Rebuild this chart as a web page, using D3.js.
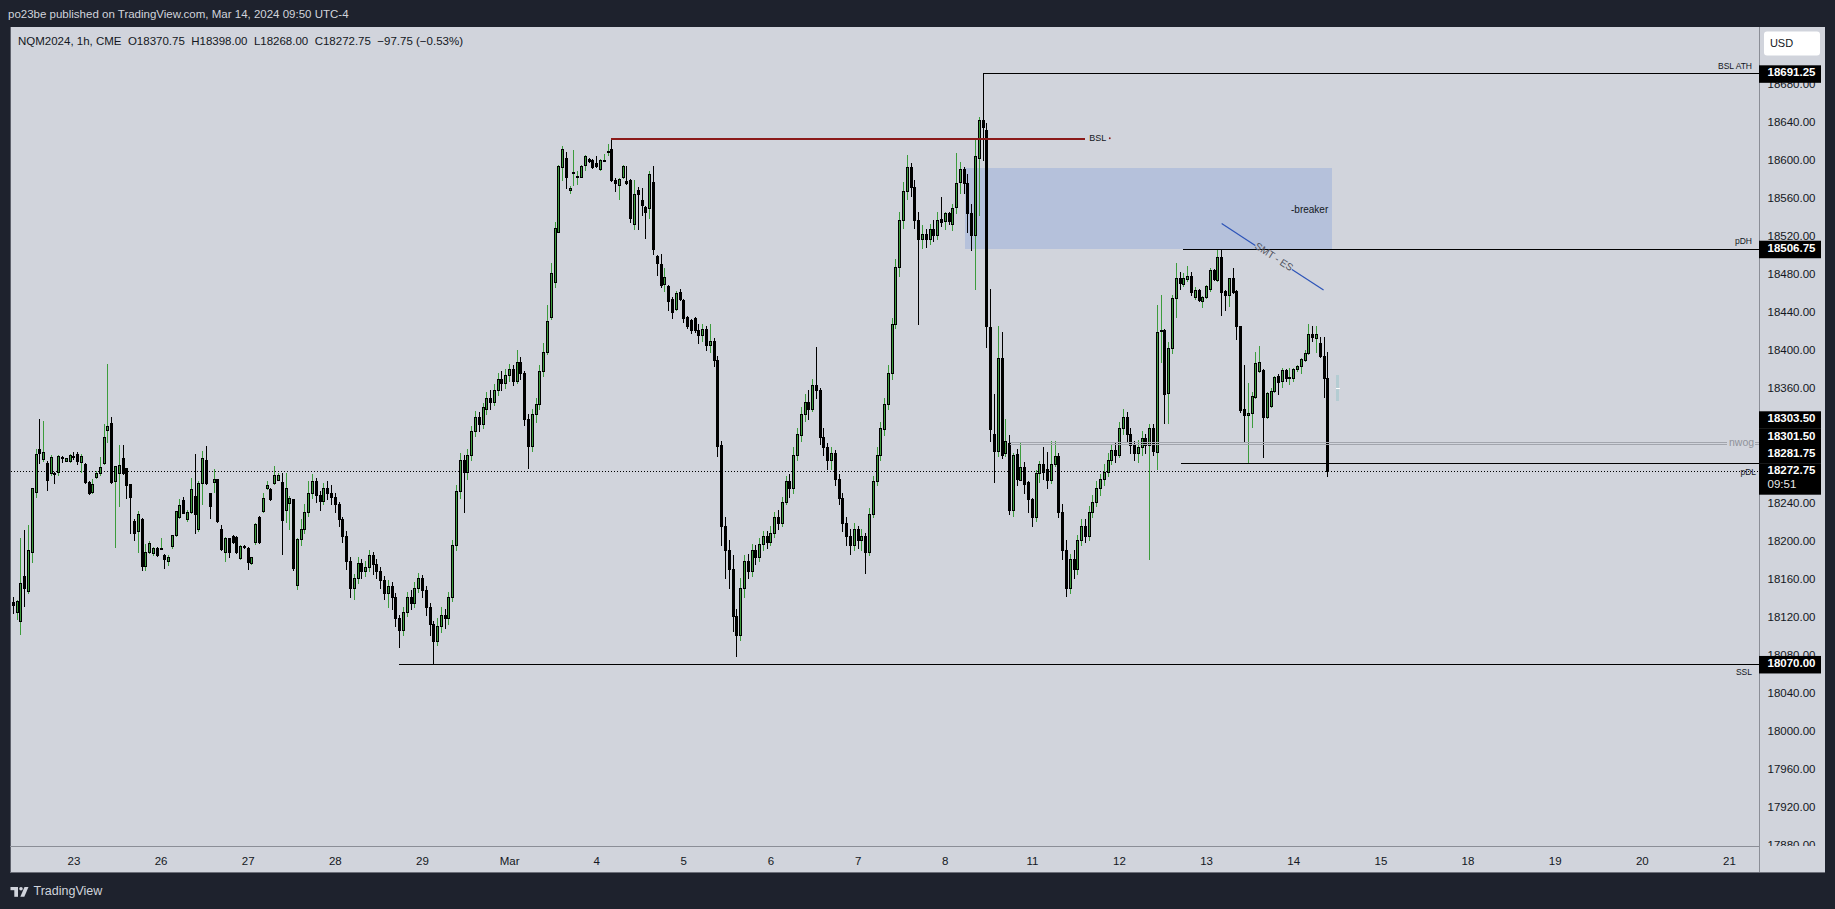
<!DOCTYPE html>
<html><head><meta charset="utf-8">
<script src="https://cdn.jsdelivr.net/npm/d3@7"></script>
<style>
html,body{margin:0;padding:0;background:#1e222d;}
svg{display:block;font-family:"Liberation Sans",Arial,sans-serif;}
</style></head><body>
<svg id="c" width="1835" height="909"></svg>
<script>
// ---------- DATA (NQM2024, 1h bars; bar 0 = Feb 23 00:00, 23 bars per session day) ----------
const firstBar = -16;
const opens = [
18135,18125,18115,18163,18147,18188,18251,18296,18286,18281,18271,18271,18272,18288,18284,18283,
18289,18291,18282,18280,18261,18251,18267,18271,18281,18316,18323,18262,18271,18287,18276,18259,18220,18210,18222,18173,18188,18187,18192,
18192,18185,18178,18194,18206,18225,18242,18222,18230,18247,18212,18260,18285,18250,18261,18265,18212,18188,18202,18205,18204,18181,18194,
18192,18176,18198,18225,18231,18255,18254,18260,18264,18261,18232,18239,18243,18153,18201,18212,18230,18250,18262,18248,18241,18255,18250,
18246,18238,18222,18205,18178,18150,18160,18176,18168,18172,18185,18175,18168,18158,18145,18152,18140,18118,18106,18125,18140,18134,18150,
18160,18148,18130,18112,18094,18110,18122,18118,18140,18195,18252,18285,18272,18290,18315,18330,18322,18338,18350,18346,18358,18370,18366,
18374,18380,18368,18388,18376,18328,18299,18333,18343,18378,18398,18435,18472,18524,18593,18602,18569,18587,18582,18582,18595,18601,18600,
18597,18591,18600,18609,18612,18579,18574,18582,18578,18579,18533,18569,18558,18551,18550,18577,18499,18491,18470,18468,18454,18443,18461,
18453,18435,18432,18434,18421,18416,18422,18406,18410,18390,18300,18215,18190,18170,18120,18100,18150,18178,18168,18190,18182,18196,18205,
18198,18208,18225,18218,18240,18262,18255,18290,18311,18333,18346,18338,18363,18358,18309,18298,18285,18292,18265,18245,18218,18205,18195,
18212,18200,18205,18188,18228,18262,18290,18317,18343,18376,18428,18488,18537,18567,18593,18572,18537,18517,18522,18517,18527,18521,18538,
18536,18544,18533,18551,18577,18591,18576,18544,18521,18602,18642,18632,18424,18312,18294,18392,18292,18302,18232,18291,18263,18277,18261,
18243,18225,18271,18280,18275,18263,18280,18289,18230,18190,18150,18180,18170,18200,18215,18205,18230,18240,18255,18265,18272,18285,18295,
18290,18318,18330,18312,18300,18292,18298,18308,18300,18318,18293,18420,18421,18355,18402,18455,18476,18470,18475,18478,18456,18463,18452,
18456.5,18464,18484,18474,18498,18462.5,18458,18476,18462,18425.5,18338.5,18332,18334,18351,18378,18379,18330,18341,18357,18373,18368,18379,18372,
18371,18380,18383,18390,18397,18417,18413,18408,18394,18370.75];
const highs = [
18140,18137,18202,18211,18216,18255,18296,18328,18326,18283,18290,18272,18290,18289,18287,18291,
18293,18293,18291,18281,18262,18265,18273,18288,18322,18385,18330,18278,18300,18300,18276,18259,18222,18231,18224,18196,18199,18193,18193,
18202,18186,18185,18206,18231,18244,18246,18232,18266,18291,18262,18294,18299,18250,18275,18265,18216,18204,18202,18206,18205,18195,18195,
18193,18183,18218,18226,18250,18262,18255,18278,18271,18271,18271,18247,18244,18203,18222,18238,18262,18270,18266,18252,18260,18262,18258,
18250,18240,18225,18210,18182,18165,18182,18180,18178,18190,18188,18180,18172,18162,18158,18156,18145,18122,18130,18146,18148,18156,18166,
18164,18152,18134,18115,18118,18130,18128,18146,18200,18258,18292,18290,18296,18320,18336,18335,18345,18356,18358,18364,18376,18378,18380,
18386,18384,18400,18393,18378,18333,18338,18350,18384,18408,18448,18492,18535,18595,18615,18609,18573,18611,18589,18595,18605,18602,18601,
18604,18601,18606,18617,18623.5,18581,18581,18595,18594,18580,18579,18572,18571,18552,18589,18594,18500,18501,18486,18469,18456,18462,18464,
18454,18436,18433,18435,18428,18428,18426,18428,18413,18394,18305,18225,18200,18185,18128,18160,18185,18186,18196,18195,18202,18210,18210,
18215,18230,18232,18246,18268,18270,18298,18318,18340,18354,18358,18370,18403,18360,18318,18302,18298,18295,18270,18250,18225,18212,18218,
18215,18212,18208,18234,18268,18298,18325,18350,18384,18434,18496,18545,18577,18605,18597,18579,18545,18532,18527,18533,18537,18545,18561,
18545,18545,18554,18607,18598,18593,18585,18554,18623,18645,18691.25,18639,18464,18354,18426,18419,18328,18311,18292,18296,18303,18282,18262,
18245,18274,18283,18298,18293,18305,18305,18292,18238,18200,18186,18190,18206,18222,18222,18236,18248,18262,18270,18280,18292,18300,18302,
18325,18338,18335,18318,18305,18306,18315,18312,18322,18322,18448,18458,18422,18409,18458,18492,18482,18481,18489,18482,18466,18464,18457,
18469,18486,18485,18506.75,18506,18463,18476,18486,18463,18426,18384,18365,18356,18398,18404,18380,18356,18360,18372.5,18375.5,18381,18380,18381,
18381,18384,18392,18400,18428,18425,18426,18414,18414,18398];
const lows = [
18124,18117,18101,18131,18145,18177,18246,18281,18284,18253,18269,18260,18269,18282,18283,18282,
18286,18280,18272,18260,18249,18250,18266,18269,18280,18303,18260,18193,18236,18270,18245,18208,18200,18188,18169,18169,18187,18185,18184,
18191,18171,18174,18192,18205,18224,18229,18220,18229,18208,18210,18238,18259,18224,18251,18219,18190,18178,18182,18197,18187,18180,18192,
18170,18175,18196,18197,18230,18254,18242,18259,18263,18186,18219,18212,18169,18149,18195,18208,18226,18245,18240,18232,18238,18244,18238,
18230,18215,18198,18170,18140,18138,18155,18160,18162,18168,18165,18160,18150,18138,18130,18128,18110,18088,18100,18120,18128,18130,18146,
18140,18122,18100,18070,18090,18104,18108,18112,18136,18190,18245,18230,18265,18285,18310,18315,18318,18333,18338,18342,18353,18358,18360,
18368,18363,18366,18370,18321,18276,18294,18324,18338,18373,18396,18433,18466,18524,18579,18571,18565,18574,18575,18582,18590,18598,18592,
18593,18590,18599,18605,18578,18567,18559,18581,18575,18535,18528,18528,18542,18518,18539,18501,18479,18466,18462,18442,18434,18442,18453,
18430,18423,18418,18419,18408,18410,18400,18398,18383,18289,18195,18160,18150,18105,18078,18095,18140,18160,18162,18175,18178,18190,18192,
18195,18204,18212,18215,18238,18246,18250,18285,18304,18326,18328,18336,18350,18301,18290,18275,18275,18258,18238,18210,18195,18186,18190,
18192,18190,18166,18185,18225,18258,18285,18311,18338,18370,18423,18478,18529,18559,18562,18529,18428,18507,18509,18512,18515,18517,18531,
18528,18533,18526,18544,18565,18565,18524,18505,18464,18542,18600,18403,18304,18261,18289,18287,18289,18228,18226,18258,18263,18250,18230,
18215,18220,18261,18265,18255,18260,18278,18225,18180,18142,18145,18160,18165,18195,18198,18200,18225,18236,18248,18258,18268,18280,18282,
18288,18312,18305,18292,18285,18282,18290,18292,18180,18290,18275,18388,18323,18323,18397,18435,18464,18468,18473,18458,18454,18452,18445,
18455,18462,18474,18473,18437,18442,18446,18460,18412,18335,18303,18281.75,18319,18350,18377,18288,18329,18340,18356,18354,18361,18368,18364,
18368,18378,18376,18389,18396,18410,18398,18393,18351,18268];
const closes = [
18132,18136,18155,18150,18190,18255,18291,18292,18293,18263,18288,18270,18289,18287,18286.5,18290,
18288,18284,18289,18261,18250,18259,18271,18277,18309,18320,18261,18278,18279,18271,18258,18246,18208,18228,18173,18188,18197,18192,18185,
18192,18180,18183,18206,18231,18237,18229,18230,18254,18228,18260,18287,18260,18236,18265,18220,18191,18202,18188,18198,18188,18194,18193,
18177,18182,18217,18198,18245,18258,18243,18269,18269,18221,18255,18245,18171,18201,18212,18230,18250,18262,18248,18241,18255,18250,18246,
18238,18222,18205,18178,18150,18160,18176,18168,18172,18185,18175,18168,18158,18145,18152,18140,18118,18106,18125,18140,18134,18150,18160,
18148,18130,18112,18094,18110,18122,18118,18140,18195,18252,18285,18272,18290,18315,18330,18322,18340,18350,18346,18358,18370,18366,18374,
18380,18368,18388,18376,18328,18299,18333,18343,18378,18398,18431,18481,18529,18594,18612,18582,18571,18587,18583,18594,18604,18599,18593,
18594,18600,18600.25,18609.5,18579,18576,18580,18594,18576,18539,18564,18564,18553,18545,18585,18506,18492,18469,18477,18452,18440,18460,18453.5,
18434,18425,18421,18421,18416,18422,18406,18410,18390,18299,18215,18190,18170,18120,18100,18150,18178,18168,18190,18182,18196,18205,18198,
18208,18225,18218,18240,18262,18255,18290,18312,18333,18346,18338,18363,18358,18309,18298,18285,18292,18265,18245,18218,18205,18195,18212,
18200,18205,18188,18228,18262,18290,18318,18343,18376,18428,18488,18537,18567,18593,18572,18537,18517,18522,18517,18527,18521,18537,18535,
18544,18536,18550,18576,18591,18576,18544,18521,18604,18642,18635,18426,18317,18294,18392,18290,18304,18232,18290,18265,18277,18259,18243,
18225,18271,18280,18272,18263,18280,18289,18230,18190,18150,18180,18170,18200,18215,18205,18230,18240,18255,18265,18272,18285,18295,18290,
18318,18330,18312,18300,18292,18298,18308,18300,18318,18294,18419,18421,18354,18402,18455,18476,18471,18476,18478,18461,18463,18452.5,18456,
18468,18484,18475,18498,18461,18458,18476,18461,18425,18337,18331.5,18334,18351.5,18387,18388,18330,18355,18357,18372,18367,18379,18371,18372.25,
18380,18383,18390.5,18397,18417,18413.5,18417,18394,18370.75,18272.75];

const dayLabels = ["23","26","27","28","29","Mar","4","5","6","7","8","11","12","13","14","15","18","19","20","21"];
const barsPerDay = 23;
const priceTicks = [17880,17920,17960,18000,18040,18080,18120,18160,18200,18240,18280,18320,18360,18400,18440,18480,18520,18560,18600,18640,18680];

// drawn levels: name, price, start bar, end bar (null = right edge)
const levelNames  = ["BSL ATH","BSL","pDH","nwog","nwog","pDL","SSL"];
const levelPrices = [18691.25, 18623.5, 18506.75, 18303.5, 18301.5, 18281.75, 18070];
const levelStart  = [240, 142, 292.8, 247.3, 247.3, 292.5, 86];
const levelEnd    = [null, 267.1, null, 436.5, 436.5, null, null];
// price-axis badges
const badgePrices = [18691.25, 18506.75, 18303.5, 18301.5, 18281.75, 18272.75, 18070];
// breaker zone [startBar, endBar, lowPrice, highPrice]
const breakerZone = [235.4, 332.3, 18506.75, 18591.5];
// SMT line [bar1, price1, bar2, price2]
const smtLine = [303.1, 18533.3, 330, 18463.3];
// faint ghost marker next to last bar [bar, topPrice, bottomPrice, midPrice]
const ghostMark = [333.5, 18373.5, 18346.5, 18360];

const legendText = "NQM2024, 1h, CME  O18370.75  H18398.00  L18268.00  C18272.75  \u221297.75 (\u22120.53%)";
const headerText = "po23be published on TradingView.com, Mar 14, 2024 09:50 UTC-4";
const countdown = "09:51";

// ---------- LAYOUT ----------
const W = 1835, H = 909;
const panel = {l: 10, t: 27, r: 1825, b: 873};
const plotR = 1759, plotB = 846;
const BG = "#d1d4dc", DARK = "#1e222d", TXT = "#131722", GREEN = "#3c9c3c", AXIS = "#8b8e97";

const svg = d3.select("#c");
svg.append("rect").attr("width", W).attr("height", H).attr("fill", DARK);
svg.append("rect").attr("x", panel.l).attr("y", panel.t).attr("width", panel.r - panel.l).attr("height", panel.b - panel.t).attr("fill", BG);
svg.append("rect").attr("x", panel.l).attr("y", panel.t).attr("width", 1).attr("height", panel.b - panel.t).attr("fill", "#5d606b");

const x = d3.scaleLinear().domain([0, (dayLabels.length - 1) * barsPerDay]).range([73.4, 1728.9]);
const y = d3.scaleLinear().domain([17880, 18700]).range([844.6, 65.0]);

const defs = svg.append("defs");
defs.append("clipPath").attr("id", "plotClip").append("rect")
  .attr("x", panel.l + 1).attr("y", panel.t + 1).attr("width", plotR - panel.l - 1).attr("height", plotB - panel.t - 1);
defs.append("clipPath").attr("id", "axisClip").append("rect")
  .attr("x", plotR).attr("y", panel.t).attr("width", panel.r - plotR).attr("height", plotB - panel.t);

const plot = svg.append("g").attr("clip-path", "url(#plotClip)").attr("shape-rendering", "crispEdges");

// breaker zone
plot.append("rect")
  .attr("x", x(breakerZone[0])).attr("y", y(breakerZone[3]))
  .attr("width", x(breakerZone[1]) - x(breakerZone[0])).attr("height", y(breakerZone[2]) - y(breakerZone[3]))
  .attr("fill", "#b5c1db");
svg.append("text").attr("x", x(breakerZone[1]) - 4).attr("y", (y(breakerZone[3]) + y(breakerZone[2])) / 2 + 1.5)
  .attr("text-anchor", "end").attr("dominant-baseline", "middle").attr("font-size", 10).attr("fill", TXT).text("-breaker");

// last price dotted line
const lastC = closes[closes.length - 1];
plot.append("line").attr("x1", panel.l + 1).attr("x2", plotR).attr("y1", Math.round(y(lastC)) + 0.5).attr("y2", Math.round(y(lastC)) + 0.5)
  .attr("stroke", "#000").attr("stroke-width", 1).attr("stroke-dasharray", "1,2").attr("shape-rendering", "auto");

// candles
const bars = closes.map((c, k) => ({i: firstBar + k, o: opens[k], h: highs[k], l: lows[k], c}));
const cand = plot.append("g").selectAll("g.c").data(bars).join("g").attr("class", "c");
cand.each(function(b) {
  const g = d3.select(this);
  const cx = Math.round(x(b.i));
  const up = b.c >= b.o;
  const top = Math.round(y(Math.max(b.o, b.c))), bot = Math.round(y(Math.min(b.o, b.c)));
  const yh = Math.min(Math.round(y(b.h)), top), yl = Math.max(Math.round(y(b.l)), bot);
  g.append("rect").attr("x", cx).attr("y", yh).attr("width", 1).attr("height", Math.max(1, yl - yh + 1))
    .attr("fill", up ? GREEN : "#000");
  const hh = Math.max(1, bot - top);
  g.append("rect").attr("x", cx - 1).attr("y", top).attr("width", 3).attr("height", hh + 1).attr("fill", "#000");
  if (up && hh > 1) g.append("rect").attr("x", cx).attr("y", top + 1).attr("width", 1).attr("height", hh - 1).attr("fill", GREEN);
});

// levels
levelNames.forEach((name, k) => {
  const yy = Math.round(y(levelPrices[k])) + 0.5;
  const x1 = x(levelStart[k]);
  const x2 = levelEnd[k] === null ? plotR : x(levelEnd[k]);
  let stroke = "#000", sw = 1;
  if (name === "BSL") { stroke = "#8b1a1a"; sw = 2; }
  if (name === "nwog") { stroke = "#a2a5ad"; }
  plot.append("line").attr("x1", x1).attr("x2", x2).attr("y1", yy).attr("y2", yy)
    .attr("stroke", stroke).attr("stroke-width", sw);
});
function lab(txt, xx, yy, anchor, size, color) {
  return svg.append("text").attr("x", xx).attr("y", yy).attr("text-anchor", anchor).attr("dominant-baseline", "middle")
    .attr("font-size", size).attr("fill", color).text(txt);
}
lab("BSL ATH", 1752, y(levelPrices[0]) - 6.5, "end", 8.5, TXT);
const bslT = lab("BSL", x(levelEnd[1]) + 4, y(levelPrices[1]) + 0.5, "start", 9, TXT);
svg.append("circle").attr("cx", x(levelEnd[1]) + 4 + bslT.node().getComputedTextLength() + 3.5)
  .attr("cy", y(levelPrices[1]) + 0.5).attr("r", 0.9).attr("fill", "#8b1a1a");
lab("pDH", 1752, y(levelPrices[2]) - 7, "end", 8.5, TXT);
lab("nwog", x(levelEnd[3]) + 2, (y(levelPrices[3]) + y(levelPrices[4])) / 2, "start", 10.5, "#8f929a");
[3, 4].forEach(k => plot.append("line").attr("x1", 1755).attr("x2", plotR)
  .attr("y1", Math.round(y(levelPrices[k])) + 0.5).attr("y2", Math.round(y(levelPrices[k])) + 0.5).attr("stroke", "#a2a5ad"));
lab("pDL", 1756, y(levelPrices[5]) + 10.5, "end", 8.5, TXT);
lab("SSL", 1752, y(levelPrices[6]) + 8.5, "end", 8.5, TXT);

// SMT line with gap for text
const sx1 = x(smtLine[0]), sy1 = y(smtLine[1]), sx2 = x(smtLine[2]), sy2 = y(smtLine[3]);
const seg = (t0, t1) => plot.append("line")
  .attr("x1", sx1 + (sx2 - sx1) * t0).attr("y1", sy1 + (sy2 - sy1) * t0)
  .attr("x2", sx1 + (sx2 - sx1) * t1).attr("y2", sy1 + (sy2 - sy1) * t1)
  .attr("stroke", "#2d54b8").attr("stroke-width", 1.2).attr("shape-rendering", "auto");
seg(0, 0.33); seg(0.69, 1);
const ang = Math.atan2(sy2 - sy1, sx2 - sx1) * 180 / Math.PI;
const tmx = sx1 + (sx2 - sx1) * 0.51, tmy = sy1 + (sy2 - sy1) * 0.51;
svg.append("text").attr("transform", `translate(${tmx},${tmy}) rotate(${ang})`)
  .attr("text-anchor", "middle").attr("dominant-baseline", "middle").attr("font-size", 10).attr("fill", "#50535e").text("SMT - ES");

// ghost marker
plot.append("rect").attr("x", Math.round(x(ghostMark[0])) - 1).attr("y", y(ghostMark[1]))
  .attr("width", 3).attr("height", y(ghostMark[2]) - y(ghostMark[1])).attr("fill", "#b4ccd2");
plot.append("rect").attr("x", Math.round(x(ghostMark[0])) - 1).attr("y", Math.round(y(ghostMark[3])))
  .attr("width", 4).attr("height", 1).attr("fill", "#ffffff");

// ---------- AXES ----------
// price badges positions (stacked upward from the last price)
const lastIdx = badgePrices.indexOf(lastC);
const badgeY = badgePrices.map(p => y(p));
for (let k = lastIdx - 1; k >= 0; k--) {
  if (badgeY[k] > badgeY[k + 1] - 17.3) badgeY[k] = badgeY[k + 1] - 17.3;
}
const badgeBoxes = badgePrices.map((p, k) => [badgeY[k] - 8, badgeY[k] + 8 + (p === lastC ? 14 : 0)]);
const hiddenTick = t => badgeBoxes.some(b => y(t) >= b[0] - 1 && y(t) <= b[1] + 2.5);

svg.append("line").attr("x1", plotR + 0.5).attr("x2", plotR + 0.5).attr("y1", panel.t).attr("y2", panel.b).attr("stroke", AXIS);
const pa = svg.append("g").attr("clip-path", "url(#axisClip)").append("g").attr("transform", `translate(${plotR},0)`)
  .call(d3.axisRight(y).tickValues(priceTicks.filter(t => !hiddenTick(t)))
    .tickFormat(d3.format(".2f")).tickSize(0).tickPadding(8.5));
pa.select(".domain").remove();
pa.selectAll("text").attr("font-size", 11.5).attr("fill", TXT).attr("font-family", '"Liberation Sans",Arial,sans-serif');

// time axis
svg.append("line").attr("x1", panel.l).attr("x2", plotR).attr("y1", plotB + 0.5).attr("y2", plotB + 0.5).attr("stroke", AXIS);
const ta = svg.append("g").attr("transform", `translate(0,${plotB})`)
  .call(d3.axisBottom(x).tickValues(dayLabels.map((_, k) => k * barsPerDay)).tickFormat((d, k) => dayLabels[k]).tickSize(0).tickPadding(10.5));
ta.select(".domain").remove();
ta.selectAll("text").attr("font-size", 11.5).attr("fill", TXT).attr("font-family", '"Liberation Sans",Arial,sans-serif');

// badges
badgePrices.forEach((p, k) => {
  svg.append("rect").attr("x", plotR).attr("y", badgeBoxes[k][0]).attr("width", 62)
    .attr("height", badgeBoxes[k][1] - badgeBoxes[k][0] + 1.5).attr("fill", "#000");
});
badgePrices.forEach((p, k) => {
  svg.append("text").attr("x", 1767.5).attr("y", badgeY[k]).attr("dominant-baseline", "middle")
    .attr("font-size", 11.5).attr("font-weight", "bold").attr("fill", "#fff").text(d3.format(".2f")(p));
  if (p === lastC) {
    svg.append("text").attr("x", 1767.5).attr("y", badgeY[k] + 14).attr("dominant-baseline", "middle")
      .attr("font-size", 11.5).attr("fill", "#e8e8e8").text(countdown);
  }
});

// USD button
svg.append("rect").attr("x", 1764).attr("y", 31.5).attr("width", 56).attr("height", 24).attr("rx", 3).attr("fill", "#fff");
svg.append("text").attr("x", 1781.5).attr("y", 44).attr("text-anchor", "middle").attr("dominant-baseline", "middle")
  .attr("font-size", 11).attr("fill", TXT).text("USD");

svg.append("line").attr("x1", panel.l).attr("x2", panel.r).attr("y1", panel.b - 0.5).attr("y2", panel.b - 0.5).attr("stroke", "#6b6e78");

// legend + header
svg.append("text").attr("x", 18).attr("y", 41.5).attr("dominant-baseline", "middle").attr("font-size", 11.5)
  .attr("fill", TXT).style("white-space", "pre").text(legendText);
svg.append("text").attr("x", 8).attr("y", 14.5).attr("dominant-baseline", "middle").attr("font-size", 11.5)
  .attr("fill", "#d1d4dc").text(headerText);

// TradingView logo
const lg = svg.append("g").attr("fill", "#d1d4dc");
lg.append("rect").attr("x", 10.5).attr("y", 887).attr("width", 7.5).attr("height", 3.2);
lg.append("rect").attr("x", 14.3).attr("y", 887).attr("width", 3.7).attr("height", 9.8);
lg.append("circle").attr("cx", 21).attr("cy", 888.7).attr("r", 1.8);
lg.append("polygon").attr("points", "24.5,887 28.5,887 24.3,896.8 20.3,896.8");
svg.append("text").attr("x", 33.5).attr("y", 892).attr("dominant-baseline", "middle").attr("font-size", 12.5)
  .attr("fill", "#d1d4dc").text("TradingView");
</script>
</body></html>
